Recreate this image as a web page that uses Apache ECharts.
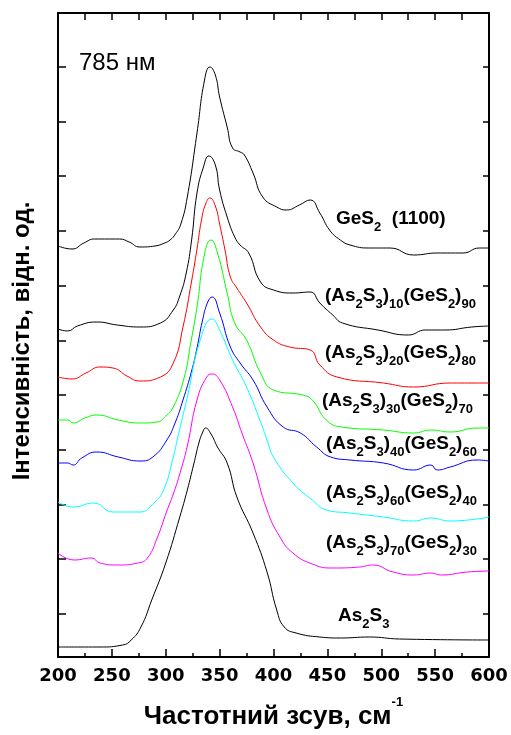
<!DOCTYPE html>
<html>
<head>
<meta charset="utf-8">
<script src="https://cdn.jsdelivr.net/npm/echarts@6.0.0/dist/echarts.min.js"></script>
<style>
html, body { margin: 0; padding: 0; background: #fff; }
#main { width: 511px; height: 735px; }
</style>
</head>
<body>
<div id="main"></div>
<script>
// spectra: [raman shift, offset intensity]
const ges2 = [[200,368],[213,365],[224,371],[234,375],[257,375],[266,372],[276,367],[290,368],[299,371],[304,374],[309,380],[314,390],[320,417],[329,481],[336,534],[341,547],[346,539],[350,517],[357,487],[362,466],[369,462],[373,459],[381,441],[390,417],[403,407],[412,404],[424,409],[434,414],[443,401],[452,384],[462,374],[471,369],[489,366],[508,366],[530,359],[552,361],[576,361],[591,366],[600,366]];
const c10 = [[200,285],[209,283],[218,288],[236,292],[255,289],[276,287],[295,291],[307,304],[313,318],[319,341],[324,374],[329,421],[335,447],[340,458],[346,449],[350,424],[357,397],[364,377],[369,369],[377,361],[388,332],[400,324],[418,321],[434,322],[443,311],[455,299],[464,291],[497,284],[525,279],[541,284],[559,284],[584,287],[600,288]];
const c20 = [[200,237],[213,235],[226,241],[239,247],[251,246],[264,238],[276,233],[295,237],[307,251],[316,287],[324,333],[329,365],[333,393],[337,410],[341,416],[346,408],[350,390],[355,364],[360,337],[366,326],[375,311],[388,287],[400,274],[415,267],[434,264],[443,249],[459,237],[502,231],[530,227],[564,231],[600,231]];
const c30 = [[200,194],[209,194],[214,191],[225,196],[236,199],[256,194],[276,191],[292,192],[300,198],[307,207],[317,236],[323,270],[329,307],[336,360],[342,374],[348,361],[357,321],[364,291],[375,274],[388,241],[400,224],[427,219],[436,214],[449,194],[463,187],[502,184],[530,181],[546,184],[564,182],[589,186],[600,186]];
const c40 = [[200,151],[209,151],[214,149],[222,156],[236,162],[256,157],[276,153],[288,157],[301,174],[309,192],[316,214],[324,243],[329,266],[334,293],[339,312],[343,317],[350,301],[360,267],[369,251],[381,234],[394,207],[409,187],[425,181],[440,167],[453,157],[471,154],[502,151],[530,144],[546,149],[552,144],[564,147],[589,154],[600,153]];
const c60 = [[200,112],[214,107],[233,111],[251,102],[276,102],[289,111],[298,124],[307,157],[311,176],[320,217],[332,274],[343,295],[350,284],[362,254],[375,227],[388,192],[394,174],[400,157],[418,131],[436,114],[449,104],[471,101],[502,97],[530,93],[546,96],[564,93],[600,97]];
const c70 = [[200,61],[215,54],[231,56],[239,51],[255,49],[274,51],[283,56],[292,76],[301,103],[307,120],[313,140],[320,168],[329,214],[338,237],[343,240],[350,234],[362,207],[371,180],[381,151],[394,104],[406,77],[418,61],[436,50],[454,46],[480,47],[492,49],[511,42],[530,39],[546,41],[555,39],[580,42],[600,43]];
const as2s3 = [[200,-33],[239,-33],[260,-31],[268,-26],[277,-13],[287,14],[300,51],[313,97],[320,124],[326,150],[331,172],[334,181],[337,186],[342,180],[348,167],[357,151],[366,117],[381,81],[394,42],[403,4],[410,-13],[421,-19],[443,-23],[462,-24],[489,-23],[517,-25],[600,-26]];

// (As2S3)x(GeS2)y compositions, top to bottom
const mixes = [[10, 90], [20, 80], [30, 70], [40, 60], [60, 40], [70, 30]];
const yTicks = [0, 55, 109, 164, 219, 273, 328, 383, 438, 492, 547];

const FONT = '"Liberation Sans", Arial, sans-serif';
const black = '#000';

var myChart = echarts.init(document.getElementById('main'));

const lineSeries = (data, color) => ({
    type: 'line',
    data: data,
    smooth: 0.5,
    showSymbol: false,
    symbol: 'none',
    lineStyle: { color: color, width: 1 },
    silent: true
});

const subRich = {
    m: { fontFamily: FONT, fontWeight: 'bold', fontSize: 19, lineHeight: 22, verticalAlign: 'top', fill: black },
    s: { fontFamily: FONT, fontWeight: 'bold', fontSize: 13, lineHeight: 14, padding: [12, 0, 0, 0], verticalAlign: 'top', fill: black }
};
const mixText = (a, b) => `{m|(As}{s|2}{m|S}{s|3}{m|)}{s|${a}}{m|(GeS}{s|2}{m|)}{s|${b}}`;

const labelPos = [[325, 286], [325, 343], [322, 391], [326, 434], [326, 483], [326, 533]];

const graphics = [
    { type: 'text', left: 79, top: 51, style: { text: '785 нм', font: '24px ' + FONT, fill: black } },
    { type: 'text', left: 336, top: 209, style: { text: '{m|GeS}{s|2}{m|  (1100)}', rich: subRich, fill: black } },
    { type: 'text', left: 338, top: 606, style: { text: '{m|As}{s|2}{m|S}{s|3}', rich: subRich, fill: black } },
    {
        type: 'text', x: 22, y: 341, rotation: Math.PI / 2,
        style: { text: 'Інтенсивність, відн. од.', font: 'bold 24px ' + FONT, fill: black, align: 'center', verticalAlign: 'middle' }
    },
    {
        type: 'text', x: 273.5, y: 696,
        style: {
            text: '{t|Частотний зсув, см}{p|-1}', align: 'center', verticalAlign: 'top', fill: black,
            rich: {
                t: { fontFamily: FONT, fontWeight: 'bold', fontSize: 26, lineHeight: 30, padding: [8, 0, 0, 0], verticalAlign: 'top', fill: black },
                p: { fontFamily: FONT, fontWeight: 'bold', fontSize: 13, lineHeight: 14, verticalAlign: 'top', fill: black }
            }
        }
    }
];
mixes.forEach((m, i) => {
    graphics.push({ type: 'text', left: labelPos[i][0], top: labelPos[i][1], style: { text: mixText(m[0], m[1]), rich: subRich, fill: black } });
});

var option = {
    animation: false,
    backgroundColor: '#fff',
    grid: { left: 58, right: 22, top: 13, bottom: 78, containLabel: false },
    xAxis: [
        {
            type: 'value', min: 200, max: 600, interval: 50, position: 'bottom',
            axisLine: { onZero: false, lineStyle: { color: black, width: 2 } },
            axisTick: { inside: true, length: 8, lineStyle: { color: black, width: 1.5 } },
            minorTick: { show: true, splitNumber: 2, length: 4, lineStyle: { color: black, width: 1.5 } },
            axisLabel: { margin: 10, color: black, fontFamily: '"DejaVu Sans", sans-serif', fontWeight: 'bold', fontSize: 18 },
            splitLine: { show: false }
        },
        {
            type: 'value', min: 200, max: 600, interval: 25, position: 'top',
            axisLine: { onZero: false, lineStyle: { color: black, width: 2 } },
            axisTick: { inside: true, length: 7, lineStyle: { color: black, width: 1.5 } },
            axisLabel: { show: false },
            splitLine: { show: false }
        }
    ],
    yAxis: [
        {
            type: 'value', min: -43, max: 601, position: 'left',
            axisLine: { show: true, onZero: false, lineStyle: { color: black, width: 2 } },
            axisTick: { show: true, inside: true, length: 8, customValues: yTicks, lineStyle: { color: black, width: 1.5 } },
            axisLabel: { show: false },
            splitLine: { show: false }
        },
        {
            type: 'value', min: -43, max: 601, position: 'right',
            axisLine: { show: true, onZero: false, lineStyle: { color: black, width: 2 } },
            axisTick: { show: true, inside: true, length: 6, customValues: yTicks, lineStyle: { color: black, width: 1.5 } },
            axisLabel: { show: false },
            splitLine: { show: false }
        }
    ],
    series: [
        lineSeries(ges2, '#000000'),
        lineSeries(c10, '#000000'),
        lineSeries(c20, '#ff0000'),
        lineSeries(c30, '#00ff00'),
        lineSeries(c40, '#0000ff'),
        lineSeries(c60, '#00ffff'),
        lineSeries(c70, '#ff00ff'),
        lineSeries(as2s3, '#000000')
    ],
    graphic: graphics
};
myChart.setOption(option);
</script>
</body>
</html>
